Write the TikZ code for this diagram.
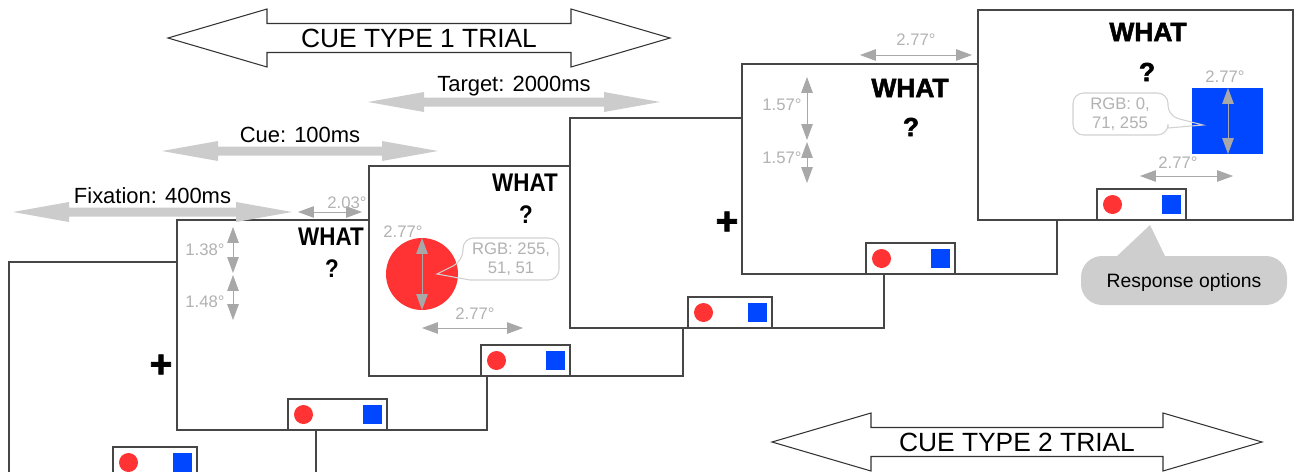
\documentclass[tikz,border=0pt]{standalone}
\usepackage{fontspec}
\setmainfont{Liberation Sans}
\newfontfamily\heavyfont{Liberation Sans}[BoldFeatures={FakeBold=2}]
\usetikzlibrary{arrows.meta}

\definecolor{cuered}{RGB}{255,51,51}
\definecolor{cueblue}{RGB}{0,71,255}
\definecolor{framegray}{RGB}{70,70,70}
\definecolor{dimgray}{RGB}{168,168,168}
\definecolor{labelgray}{RGB}{178,178,178}
\definecolor{bargray}{RGB}{204,204,204}
\definecolor{bubblegray}{RGB}{206,206,206}

\tikzset{
  screen/.style={draw=framegray, line width=0.85pt, fill=white},
  optbox/.style={draw=framegray, line width=0.85pt, fill=white},
  dimarrow/.style={dimgray, line width=0.5pt, {Triangle[length=9pt,width=6.5pt]}-{Triangle[length=9pt,width=6.5pt]}},
  dimlabel/.style={text=labelgray, inner sep=0pt, font=\fontsize{9.5}{11}\selectfont},
  cuetext/.style={inner sep=0pt, xscale=0.88, font=\fontsize{14.5}{16}\selectfont\bfseries},
  heavytext/.style={inner sep=0pt, font=\fontsize{15}{17}\selectfont\heavyfont\bfseries},
  cross/.style={inner sep=0pt, font=\fontsize{22}{24}\selectfont\heavyfont\bfseries},
  timing/.style={inner sep=0pt, font=\fontsize{12.5}{14}\selectfont},
  trialarrow/.style={draw=black!80, line width=0.6pt, fill=white},
  trialtext/.style={inner sep=0pt, font=\fontsize{15}{17}\selectfont},
  rgbbubble/.style={draw=black!18, line width=0.6pt},
  rgbtext/.style={text=labelgray, align=center, inner sep=0pt, font=\fontsize{9.5}{11}\selectfont},
}

\begin{document}
\begin{tikzpicture}[x=0.02cm, y=-0.02cm]
  \useasboundingbox (0,0) rectangle (1296,471);

  % screens, back to front, each with its response box
  \foreach \fx/\fy/\fw/\fh/\bx/\bw in {9/262/307/216/113/84, 177/220/310/210/288/99, 369/166/314/210/481/89,
                                        570/118/314/210/688/84, 742/64/315/210/866/89, 978/10/315/210/1097/89} {
    \draw[screen] (\fx,\fy) rectangle ++(\fw,\fh);
    \draw[optbox] (\bx,\fy+\fh-31) rectangle ++(\bw,31);
    \fill[cuered] (\bx+15.5,\fy+\fh-15.5) circle (9.5);
    \fill[cueblue] (\bx+\bw-24.5,\fy+\fh-25) rectangle ++(19,19);
  }

  % fixation screens
  \node[cross] (fix1) at (161,366) {+};
  \node[cross] (fix2) at (727,223) {+};

  % cue type 1: cue screen
  \node[cuetext] (what1) at (331,237) {WHAT};
  \node[cuetext] (ask1) at (332,269) {?};
  \draw[dimarrow] (298,212) -- (362,212);
  \node[dimlabel] (dimA) at (347,203) {2.03°};
  \draw[dimarrow] (233,227) -- (233,273);
  \draw[dimarrow] (233,275) -- (233,320);
  \node[dimlabel] (dimB) at (205,250) {1.38°};
  \node[dimlabel] (dimC) at (205,302) {1.48°};

  % cue type 1: target screen
  \node[cuetext] (what2) at (525,183) {WHAT};
  \node[cuetext] (ask2) at (526,215) {?};
  \fill[cuered] (422,274) circle (36);
  \draw[dimarrow] (422,238) -- (422,310);
  \node[dimlabel] (dimD) at (403,232) {2.77°};
  \draw[dimarrow] (422,328) -- (523,328);
  \node[dimlabel] (dimE) at (475,314) {2.77°};
  \fill[white, rounded corners=6pt] (463,238) rectangle (559,280);
  \draw[rgbbubble] (463,261) -- (437,274) -- (470,280) [rounded corners=6pt] -- (559,280) -- (559,238) -- (463,238) -- cycle;
  \node[rgbtext] (rgbred) at (511,259) {RGB: 255,\\51, 51};

  % cue type 2: cue screen
  \node[heavytext] (what3) at (910,88) {WHAT};
  \node[heavytext] (ask3) at (911,127) {?};
  \draw[dimarrow] (860,55) -- (972,55);
  \node[dimlabel] (dimF) at (916,40) {2.77°};
  \draw[dimarrow] (807,77) -- (807,140);
  \draw[dimarrow] (807,142) -- (807,183);
  \node[dimlabel] (dimG) at (782,105) {1.57°};
  \node[dimlabel] (dimH) at (782,158) {1.57°};

  % cue type 2: target screen
  \node[heavytext] (what4) at (1148,32) {WHAT};
  \node[heavytext] (ask4) at (1147,72) {?};
  \fill[cueblue] (1192,88) rectangle (1263,154);
  \draw[dimarrow] (1228,88) -- (1228,154);
  \node[dimlabel] (dimI) at (1225,77) {2.77°};
  \draw[dimarrow] (1140,176) -- (1233,176);
  \node[dimlabel] (dimJ) at (1178,163) {2.77°};
  \fill[white, rounded corners=6pt] (1073,93) rectangle (1168,135);
  \draw[rgbbubble] (1168,116) -- (1203,125) -- (1168,128) [rounded corners=6pt] -- (1168,135) -- (1073,135) -- (1073,93) -- (1168,93) -- cycle;
  \node[rgbtext] (rgbblue) at (1120,114) {RGB: 0,\\71, 255};

  % response options callout
  \fill[bubblegray] (1115,258) -- (1150,225) -- (1166,258) -- cycle;
  \fill[bubblegray, rounded corners=12pt] (1081,256) rectangle (1287,305);
  \node[font=\fontsize{11}{13}\selectfont, inner sep=0pt] (resp) at (1184,282) {Response options};

  % durations
  \foreach \xa/\xb/\yy/\txt/\nm in {13/292/212/Fixation: 400ms/fixdur, 162/438/151/Cue: 100ms/cuedur,
                                     368/660/102/Target: 2000ms/tardur} {
    \fill[bargray] (\xa,\yy) -- (\xa+56,\yy-10) -- (\xa+56,\yy-4.5) -- (\xb-56,\yy-4.5) -- (\xb-56,\yy-10)
      -- (\xb,\yy) -- (\xb-56,\yy+10) -- (\xb-56,\yy+4.5) -- (\xa+56,\yy+4.5) -- (\xa+56,\yy+10) -- cycle;
    \node[timing] (\nm) at ({(\xa+\xb)/2},\yy-16) {\txt};
  }

  % trial types
  \foreach \xa/\xb/\yy/\k in {168/670/38/1, 772/1262/442/2} {
    \draw[trialarrow] (\xa,\yy) -- (\xa+99,\yy-29) -- (\xa+99,\yy-14.5) -- (\xb-99,\yy-14.5) -- (\xb-99,\yy-29)
      -- (\xb,\yy) -- (\xb-99,\yy+29) -- (\xb-99,\yy+14.5) -- (\xa+99,\yy+14.5) -- (\xa+99,\yy+29) -- cycle;
    \node[trialtext] (trial\k) at ({(\xa+\xb)/2},\yy) {CUE TYPE \k\ TRIAL};
  }
\end{tikzpicture}
\end{document}
